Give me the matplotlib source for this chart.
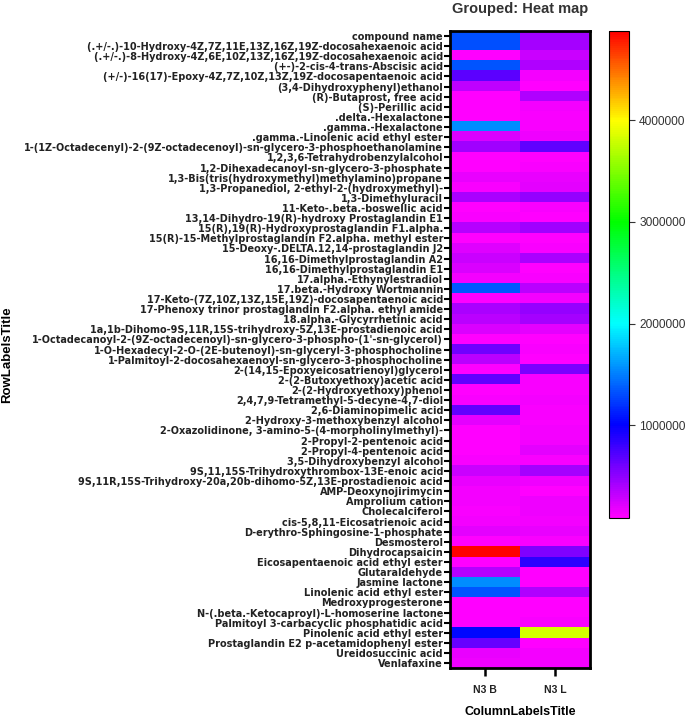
import numpy as np
import matplotlib.pyplot as plt
from matplotlib.colors import LinearSegmentedColormap

plt.rcParams['font.family'] = ['Liberation Sans', 'DejaVu Sans']

rows = [
    "compound name",
    "(.+/-.)-10-Hydroxy-4Z,7Z,11E,13Z,16Z,19Z-docosahexaenoic acid",
    "(.+/-.)-8-Hydroxy-4Z,6E,10Z,13Z,16Z,19Z-docosahexaenoic acid",
    "(+-)-2-cis-4-trans-Abscisic acid",
    "(+/-)-16(17)-Epoxy-4Z,7Z,10Z,13Z,19Z-docosapentaenoic acid",
    "(3,4-Dihydroxyphenyl)ethanol",
    "(R)-Butaprost, free acid",
    "(S)-Perillic acid",
    ".delta.-Hexalactone",
    ".gamma.-Hexalactone",
    ".gamma.-Linolenic acid ethyl ester",
    "1-(1Z-Octadecenyl)-2-(9Z-octadecenoyl)-sn-glycero-3-phosphoethanolamine",
    "1,2,3,6-Tetrahydrobenzylalcohol",
    "1,2-Dihexadecanoyl-sn-glycero-3-phosphate",
    "1,3-Bis(tris(hydroxymethyl)methylamino)propane",
    "1,3-Propanediol, 2-ethyl-2-(hydroxymethyl)-",
    "1,3-Dimethyluracil",
    "11-Keto-.beta.-boswellic acid",
    "13,14-Dihydro-19(R)-hydroxy Prostaglandin E1",
    "15(R),19(R)-Hydroxyprostaglandin F1.alpha.",
    "15(R)-15-Methylprostaglandin F2.alpha. methyl ester",
    "15-Deoxy-.DELTA.12,14-prostaglandin J2",
    "16,16-Dimethylprostaglandin A2",
    "16,16-Dimethylprostaglandin E1",
    "17.alpha.-Ethynylestradiol",
    "17.beta.-Hydroxy Wortmannin",
    "17-Keto-(7Z,10Z,13Z,15E,19Z)-docosapentaenoic acid",
    "17-Phenoxy trinor prostaglandin F2.alpha. ethyl amide",
    "18.alpha.-Glycyrrhetinic acid",
    "1a,1b-Dihomo-9S,11R,15S-trihydroxy-5Z,13E-prostadienoic acid",
    "1-Octadecanoyl-2-(9Z-octadecenoyl)-sn-glycero-3-phospho-(1'-sn-glycerol)",
    "1-O-Hexadecyl-2-O-(2E-butenoyl)-sn-glyceryl-3-phosphocholine",
    "1-Palmitoyl-2-docosahexaenoyl-sn-glycero-3-phosphocholine",
    "2-(14,15-Epoxyeicosatrienoyl)glycerol",
    "2-(2-Butoxyethoxy)acetic acid",
    "2-(2-Hydroxyethoxy)phenol",
    "2,4,7,9-Tetramethyl-5-decyne-4,7-diol",
    "2,6-Diaminopimelic acid",
    "2-Hydroxy-3-methoxybenzyl alcohol",
    "2-Oxazolidinone, 3-amino-5-(4-morpholinylmethyl)-",
    "2-Propyl-2-pentenoic acid",
    "2-Propyl-4-pentenoic acid",
    "3,5-Dihydroxybenzyl alcohol",
    "9S,11,15S-Trihydroxythrombox-13E-enoic acid",
    "9S,11R,15S-Trihydroxy-20a,20b-dihomo-5Z,13E-prostadienoic acid",
    "AMP-Deoxynojirimycin",
    "Amprolium cation",
    "Cholecalciferol",
    "cis-5,8,11-Eicosatrienoic acid",
    "D-erythro-Sphingosine-1-phosphate",
    "Desmosterol",
    "Dihydrocapsaicin",
    "Eicosapentaenoic acid ethyl ester",
    "Glutaraldehyde",
    "Jasmine lactone",
    "Linolenic acid ethyl ester",
    "Medroxyprogesterone",
    "N-(.beta.-Ketocaproyl)-L-homoserine lactone",
    "Palmitoyl 3-carbacyclic phosphatidic acid",
    "Pinolenic acid ethyl ester",
    "Prostaglandin E2 p-acetamidophenyl ester",
    "Ureidosuccinic acid",
    "Venlafaxine",
]
columns = ["N3 B", "N3 L"]

n3_b = [1310000, 1310000, 100000, 1330000, 679000, 322000, 100000, 108000, 108000, 1550000,
        233000, 429000, 95000, 108000, 179000, 126000, 393000, 108000, 126000, 358000,
        108000, 215000, 286000, 233000, 144000, 1350000, 108000, 393000, 340000, 233000,
        108000, 607000, 340000, 108000, 661000, 108000, 126000, 661000, 197000, 108000,
        108000, 108000, 126000, 286000, 179000, 144000, 144000, 126000, 144000, 197000,
        108000, 4880000, 108000, 358000, 1550000, 1330000, 108000, 108000, 108000, 1040000,
        643000, 179000, 161000]
n3_l = [429000, 411000, 286000, 375000, 144000, 90000, 375000, 144000, 126000, 126000,
        161000, 661000, 108000, 126000, 179000, 197000, 465000, 126000, 108000, 429000,
        108000, 126000, 393000, 108000, 126000, 340000, 144000, 465000, 411000, 197000,
        108000, 126000, 108000, 572000, 126000, 126000, 144000, 126000, 126000, 144000,
        144000, 197000, 126000, 411000, 161000, 108000, 161000, 161000, 144000, 179000,
        126000, 545000, 857000, 108000, 108000, 375000, 108000, 108000, 126000, 3820000,
        108000, 144000, 144000]

data = np.array([n3_b, n3_l]).T
vmin, vmax = data.min(), data.max()

# rainbow: magenta -> blue (1e6) -> cyan (2e6) -> green (3e6) -> yellow (4e6) -> red
nodes = [vmin, 1e6, 2e6, 3e6, 4e6, vmax]
cols = ['#ff00ff', '#0000ff', '#00ffff', '#00ff00', '#ffff00', '#ff0000']
cmap = LinearSegmentedColormap.from_list(
    'prism_rainbow', [((v - vmin) / (vmax - vmin), c) for v, c in zip(nodes, cols)])

fig = plt.figure(figsize=(6.85, 7.2), dpi=100)
ax = fig.add_axes([0.657, 0.072, 0.204, 0.885])
im = ax.imshow(data, cmap=cmap, vmin=vmin, vmax=vmax, aspect='auto',
               interpolation='nearest')

# the row names are wide and short in the reference: a wide face keeps them in one row
ax.set_yticks(range(len(rows)))
ax.set_yticklabels(rows, fontsize=7.0, fontweight='bold', color='#222222',
                   family=['DejaVu Sans'])
ax.set_xticks(range(len(columns)))
ax.set_xticklabels(columns, fontsize=7.5, fontweight='bold', color='#222222')
ax.tick_params(axis='y', length=4, width=1.5, pad=1)
ax.tick_params(axis='x', length=6, width=1.8, pad=6)
for s in ax.spines.values():
    s.set_linewidth(2)

ax.set_xlabel('ColumnLabelsTitle', fontsize=9, fontweight='bold', labelpad=8)
fig.text(0.011, 0.507, 'RowLabelsTitle', rotation=90, fontsize=9.5,
         fontweight='bold', va='center', ha='center')
fig.text(0.759, 0.988, 'Grouped: Heat map', fontsize=10.5, fontweight='bold',
         ha='center', va='center', color='#333333')

cax = fig.add_axes([0.889, 0.281, 0.029, 0.676])
cb = fig.colorbar(im, cax=cax)
cb.set_ticks([1000000, 2000000, 3000000, 4000000])
cb.set_ticklabels(['1000000', '2000000', '3000000', '4000000'])
cb.ax.tick_params(labelsize=8.6, length=4, width=0.8, colors='#333333')
cb.outline.set_linewidth(0.8)

fig.savefig('out.png', dpi=100)
